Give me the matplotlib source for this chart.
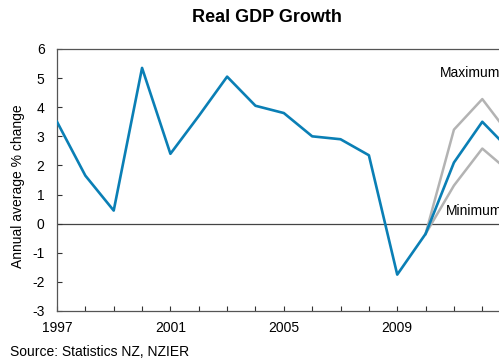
import matplotlib.pyplot as plt

plt.rcParams['font.family'] = ['Liberation Sans', 'DejaVu Sans']
plt.rcParams['axes.unicode_minus'] = False

# Annual average real GDP growth, % change
years = [1997, 1998, 1999, 2000, 2001, 2002, 2003, 2004, 2005, 2006,
         2007, 2008, 2009, 2010, 2011, 2012, 2013]
gdp = [3.5, 1.65, 0.45, 5.35, 2.4, 3.7, 5.05, 4.05, 3.8, 3.0,
       2.9, 2.35, -1.75, -0.35, 2.1, 3.5, 2.5]

# forecast range
range_years = [2010, 2011, 2012, 2013]
gdp_max = [-0.35, 3.23, 4.28, 3.0]
gdp_min = [-0.35, 1.31, 2.58, 1.75]

year_labels = ['1997', '2001', '2005', '2009']

fig = plt.figure(figsize=(4.99, 3.6), dpi=100)
ax = fig.add_axes([57 / 499, 49 / 360, 482 / 499, 262 / 360])

grey = '#b3b3b3'
blue = '#0a7fb5'
ax.plot(range_years, gdp_max, color=grey, lw=1.8, zorder=2)
ax.plot(range_years, gdp_min, color=grey, lw=1.8, zorder=2)
ax.plot(years, gdp, color=blue, lw=1.9, zorder=3)
ax.axhline(0, color='#444444', lw=0.9, zorder=1)

ax.text(2010.51, 5.17, 'Maximum', fontsize=10, ha='left', va='center')
ax.text(2010.72, 0.42, 'Minimum', fontsize=10, ha='left', va='center')

ax.set_xlim(1997, 2014)
ax.set_ylim(-3, 6)
ax.set_yticks(range(-3, 7))
ax.set_xticks(range(1997, 2015))
ax.set_xticklabels([str(y) if str(y) in year_labels else '' for y in range(1997, 2015)])
ax.tick_params(direction='in', length=3.5, width=0.8, labelsize=10, color='#333333')
ax.tick_params(axis='x', pad=7)
ax.tick_params(axis='y', pad=9)
for s in ax.spines.values():
    s.set_color('#555555')
    s.set_linewidth(0.9)

fig.text(18 / 499, 1 - 186 / 360, 'Annual average % change', fontsize=10,
         rotation=90, ha='center', va='center')
fig.text(267 / 499, 1 - 18 / 360, 'Real GDP Growth', fontsize=13,
         fontweight='bold', ha='center', va='center')
fig.text(10 / 499, 1 - 352 / 360, 'Source: Statistics NZ, NZIER', fontsize=10,
         ha='left', va='center')

fig.savefig('out.png', dpi=100)
